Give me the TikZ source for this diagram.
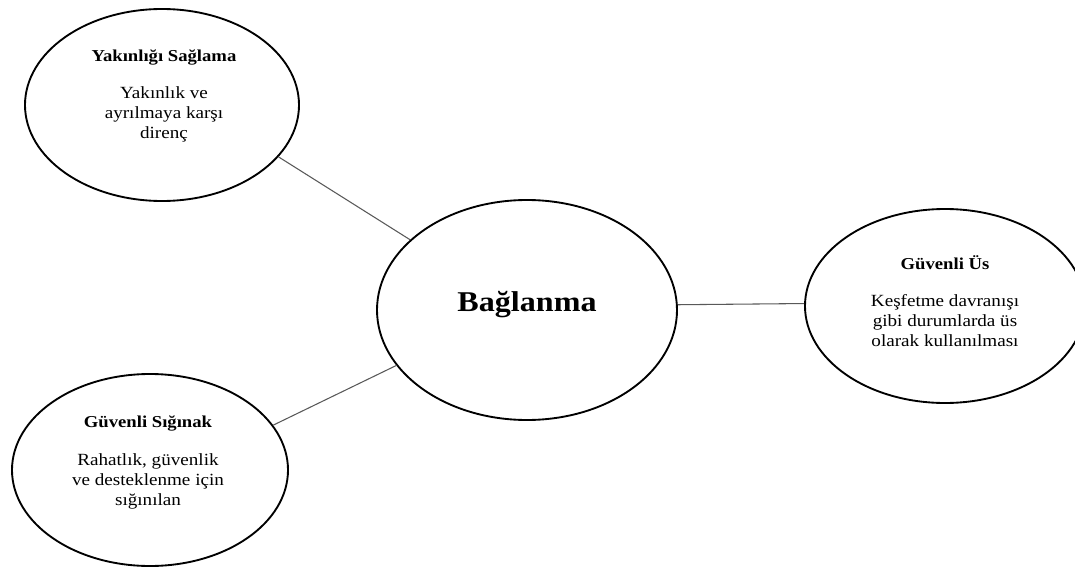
\documentclass[tikz,border=0pt]{standalone}
\usepackage{fontspec}
\setmainfont{Liberation Serif}[FakeStretch=1.12]
\usetikzlibrary{shapes.geometric}
\begin{document}
\begin{tikzpicture}[x=0.75pt,y=-0.75pt,
  bubble/.style={ellipse, draw=black, line width=1.4pt, inner sep=0pt},
  link/.style={draw=black!65, line width=0.8pt},
  ttl/.style={font=\fontsize{12.5}{15}\selectfont\bfseries, inner sep=0pt},
  body/.style={font=\fontsize{12.8}{15}\selectfont, align=center, inner sep=0pt},
  big/.style={font=\fontsize{21.5}{24}\selectfont\bfseries, inner sep=0pt}]
\useasboundingbox (0,0) rectangle (1075,567);
\clip (0,0) rectangle (1075,567);
% ellipses
\node[bubble, minimum width=205.5pt, minimum height=144pt] (tl) at (162,105) {};
\node[bubble, minimum width=225pt, minimum height=165pt] (c) at (527,310) {};
\node[bubble, minimum width=210pt, minimum height=145.5pt] (r) at (945,306) {};
\node[bubble, minimum width=207pt, minimum height=144pt] (bl) at (150,470) {};
% connectors
\draw[link] (tl.-24.4) -- (c.149);
\draw[link] (bl.20.5) -- (c.203);
\draw[link] (c.2.6) -- (r.179);
% texts
\node[big] (ct) at (527,305) {Bağlanma};
\node[ttl] (tlt) at (164,57) {Yakınlığı Sağlama};
\node[body] (tlb) at (164,114) {Yakınlık ve\\ayrılmaya karşı\\direnç};
\node[ttl] (rt) at (945,263) {Güvenli Üs};
\node[body] (rb) at (945,321) {Keşfetme davranışı\\gibi durumlarda üs\\olarak kullanılması};
\node[ttl] (blt) at (148,423) {Güvenli Sığınak};
\node[body] (blb) at (148,481) {Rahatlık, güvenlik\\ve desteklenme için\\sığınılan};
\end{tikzpicture}
\end{document}
